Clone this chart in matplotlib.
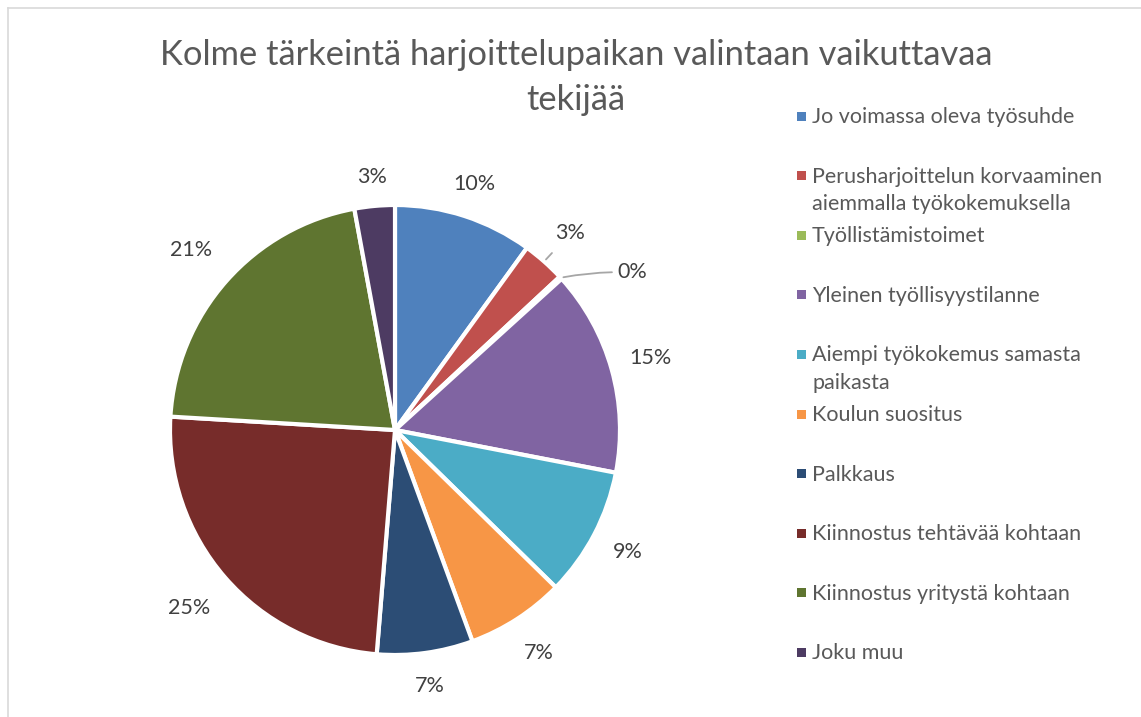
import matplotlib.pyplot as plt
from matplotlib.patches import Rectangle
from matplotlib.lines import Line2D
import numpy as np

# --- Data ---
categories = [
    "Jo voimassa oleva työsuhde",
    "Perusharjoittelun korvaaminen\naiemmalla työkokemuksella",
    "Työllistämistoimet",
    "Yleinen työllisyystilanne",
    "Aiempi työkokemus samasta\npaikasta",
    "Koulun suositus",
    "Palkkaus",
    "Kiinnostus tehtävää kohtaan",
    "Kiinnostus yritystä kohtaan",
    "Joku muu",
]
shares = [10.0, 3.1, 0.2, 14.8, 9.3, 7.1, 6.9, 24.7, 21.2, 2.9]
colors = ["#4F81BD", "#C0504D", "#9BBB59", "#8064A2", "#4BACC6",
          "#F79646", "#2C4D75", "#772C2A", "#5F7530", "#4D3B62"]

title_lines = ["Kolme tärkeintä harjoittelupaikan valintaan vaikuttavaa", "tekijää"]

plt.rcParams['font.family'] = ['Lato', 'DejaVu Sans']
W, H = 1141, 717
fig = plt.figure(figsize=(W / 100, H / 100), dpi=100)

# chart frame (only left/top edges visible in the crop)
fig.add_artist(Line2D([8 / W, 8 / W], [0, 1 - 8 / H], color="#D9D9D9", lw=1.2))
fig.add_artist(Line2D([8 / W, 1], [1 - 8 / H, 1 - 8 / H], color="#D9D9D9", lw=1.2))

# --- Pie ---
cx, cy, r = 395, 430, 225
ax = fig.add_axes([(cx - r) / W, 1 - (cy + r) / H, 2 * r / W, 2 * r / H])
wedges, _ = ax.pie(shares, colors=colors, startangle=90, counterclock=False,
                   wedgeprops=dict(edgecolor="white", linewidth=3))
ax.set_xlim(-1, 1)
ax.set_ylim(-1, 1)
ax.set_aspect("auto")
ax.axis("off")

# label distance per slice (best-fit placement outside the pie)
label_dist = [1.15, None, None, 1.18, 1.17, 1.18, 1.15, 1.21, 1.21, 1.13]
lab_fs = 15.5
lab_col = "#404040"
total = sum(shares)
for i, (w, v) in enumerate(zip(wedges, shares)):
    mid = np.deg2rad((w.theta1 + w.theta2) / 2)
    lbl = f"{round(v / total * 100):.0f}%"
    if i == 1:
        # small slice with leader line
        ax.annotate(lbl, xy=(np.cos(mid), np.sin(mid)), xytext=(0.78, 0.875),
                    ha="center", va="center", fontsize=lab_fs, color=lab_col,
                    arrowprops=dict(arrowstyle="-", color="#A6A6A6", lw=1.3,
                                    shrinkA=7, shrinkB=2))
    elif i == 2:
        ax.annotate(lbl, xy=(np.cos(mid), np.sin(mid)), xytext=(1.055, 0.70),
                    ha="center", va="center", fontsize=lab_fs, color=lab_col,
                    arrowprops=dict(arrowstyle="-", color="#A6A6A6", lw=1.3,
                                    shrinkA=2, shrinkB=2,
                                    connectionstyle="arc3,rad=0.06"))
    else:
        d = label_dist[i]
        ax.text(d * np.cos(mid), d * np.sin(mid), lbl, ha="center", va="center",
                fontsize=lab_fs, color=lab_col)

# --- Title ---
for ln, yy in zip(title_lines, [55, 100]):
    fig.text(576 / W, 1 - yy / H, ln, ha="center", va="center", fontsize=24.8,
             color="#595959")

# --- Legend ---
top0, step = 116, 59.6
for i, (c, col) in enumerate(zip(categories, colors)):
    y = top0 + step * i
    fig.add_artist(Rectangle((797 / W, 1 - (y + 4.5) / H), 9 / W, 9 / H,
                             facecolor=col, edgecolor="none"))
    fig.text(812 / W, 1 - (y - 9) / H, c, ha="left", va="top", fontsize=15.5,
             color="#595959", linespacing=1.45)

fig.savefig("out.png", dpi=100, facecolor="white")
